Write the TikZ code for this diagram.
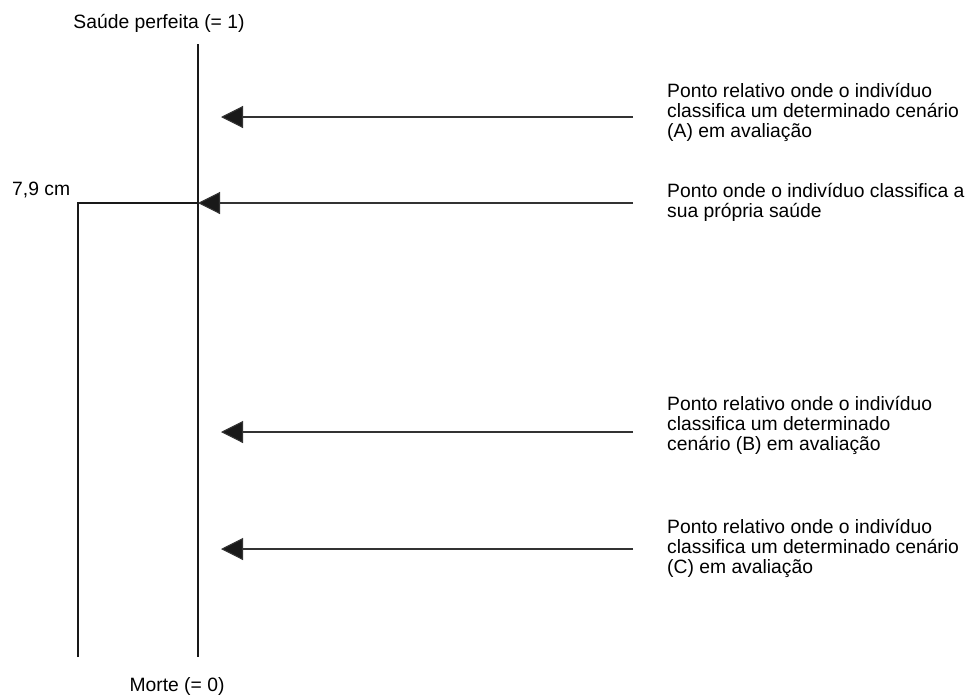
\documentclass[tikz,border=0pt]{standalone}
\usepackage{fontspec}
\setmainfont{Liberation Sans}
\usetikzlibrary{arrows.meta}
\begin{document}
\begin{tikzpicture}[x=1pt,y=-1pt,
  lbl/.style={inner sep=0pt, font=\fontsize{19.3}{20}\selectfont},
  desc/.style={lbl, anchor=base west, align=left},
  axis/.style={line width=1.1pt, draw=black!90},
  ptr/.style={line width=1.1pt, draw=black!80, -{Triangle[length=22pt,width=22pt,fill=black!90]}}]
\useasboundingbox (0,0) rectangle (968,696);
% axis
\node[lbl, anchor=base] (top) at (159,28) {Saúde perfeita (= 1)};
\node[lbl, anchor=base] (bot) at (177,691) {Morte (= 0)};
\coordinate (axT) at (198,44);
\coordinate (axB) at (198,657);
\draw[axis] (axT) -- (axB);
% own health bracket
\node[lbl, anchor=base west] (cm) at (12,195) {7,9 cm};
\coordinate (brB) at (78,657);
\coordinate (brC) at (78,203);
\coordinate (brR) at (198,203);
\draw[axis] (brB) -- (brC) -- (brR);
% arrows
\coordinate (sA) at (633,117); \coordinate (tA) at (221,117);
\coordinate (sS) at (633,203); \coordinate (tS) at (198,203);
\coordinate (sB) at (633,432); \coordinate (tB) at (221,432);
\coordinate (sC) at (633,549); \coordinate (tC) at (221,549);
\draw[ptr] (sA) -- (tA);
\draw[ptr] (sS) -- (tS);
\draw[ptr] (sB) -- (tB);
\draw[ptr] (sC) -- (tC);
% descriptions (base anchor = last line's baseline)
\node[desc] (dA) at (667,137.5) {Ponto relativo onde o indivíduo\\classifica um determinado cenário\\(A) em avaliação};
\node[desc] (dS) at (667,217) {Ponto onde o indivíduo classifica a\\sua própria saúde};
\node[desc] (dB) at (667,450) {Ponto relativo onde o indivíduo\\classifica um determinado\\cenário (B) em avaliação};
\node[desc] (dC) at (667,573.5) {Ponto relativo onde o indivíduo\\classifica um determinado cenário\\(C) em avaliação};
\end{tikzpicture}
\end{document}
